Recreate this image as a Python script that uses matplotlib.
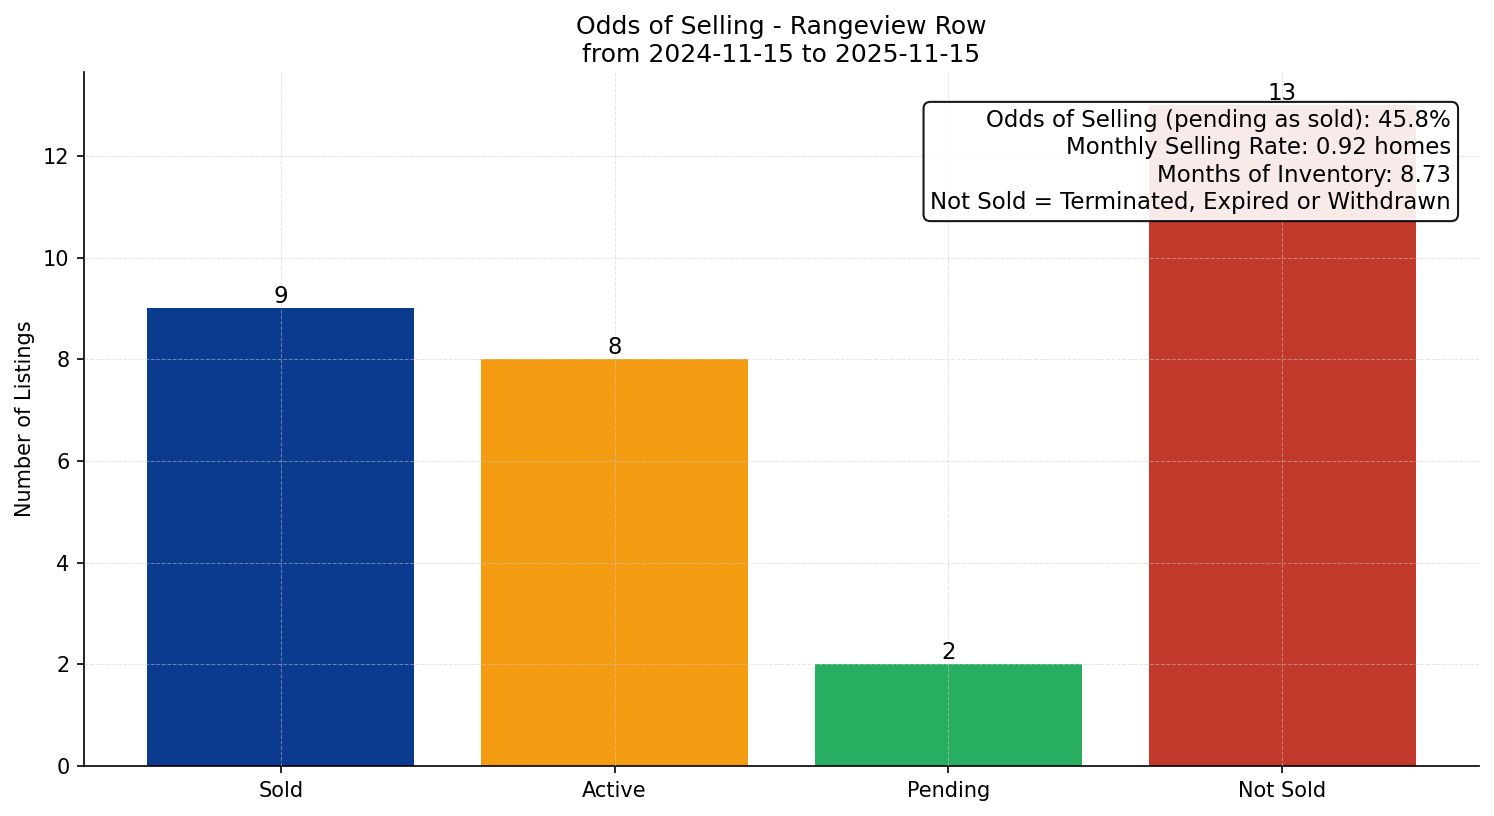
import matplotlib
matplotlib.use("Agg")
import matplotlib.pyplot as plt

categories = ["Sold", "Active", "Pending", "Not Sold"]
counts = [9, 8, 2, 13]
colors = ["#0b3b8f", "#f39c12", "#27ae60", "#c0392b"]
title = "Odds of Selling - Rangeview Row\nfrom 2024-11-15 to 2025-11-15"
info_lines = [
    "Odds of Selling (pending as sold): 45.8%",
    "Monthly Selling Rate: 0.92 homes",
    "Months of Inventory: 8.73",
    "Not Sold = Terminated, Expired or Withdrawn",
]

fig, ax = plt.subplots(figsize=(9.96, 5.44), dpi=150)
fig.subplots_adjust(left=0.0562, right=0.99, top=0.9118, bottom=0.0613)
bars = ax.bar(categories, counts, color=colors, width=0.8)
for b, v in zip(bars, counts):
    ax.text(b.get_x() + b.get_width() / 2, v, str(v), ha="center", va="bottom", fontsize=11)
ax.set_ylim(0, max(counts) * 1.05)
ax.set_ylabel("Number of Listings", fontsize=10)
ax.set_title(title, fontsize=12, pad=5)
ax.tick_params(labelsize=10)
ax.grid(True, linestyle="--", color="#cccccc", alpha=0.5, linewidth=0.5)
ax.set_axisbelow(False)
ax.spines["top"].set_visible(False)
ax.spines["right"].set_visible(False)
ax.text(0.98, 0.947, "\n".join(info_lines), transform=ax.transAxes, ha="right", va="top",
        fontsize=11, linespacing=1.25,
        bbox=dict(boxstyle="round,pad=0.3", facecolor="white", alpha=0.9, edgecolor="black"))
fig.savefig("out.png", dpi=150)
